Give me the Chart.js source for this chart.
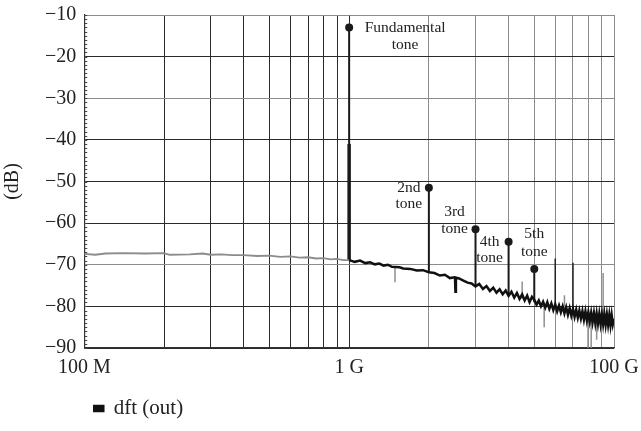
<!DOCTYPE html>
<html>

<head>
  <title>dft (out)</title>
  <script src="https://cdn.jsdelivr.net/npm/chart.js@4.4.1/dist/chart.umd.min.js"></script>
  <style>
    html, body { margin: 0; padding: 0; background: #fff; }
    #wrap { width: 641px; height: 431px; }
  </style>
</head>

<body>
  <div id="wrap"><canvas id="specChart"></canvas></div>
  <script>
    // frequencies in GHz, levels in dB
    const floorLowFreq = [0.10, 0.11, 0.12, 0.14, 0.17, 0.20, 0.21, 0.25, 0.28, 0.30, 0.33, 0.36, 0.40, 0.45, 0.50, 0.55, 0.60, 0.65, 0.70, 0.75, 0.80, 0.85, 0.90, 0.95, 1.00];
    const floorLowDb = [-67.4, -67.6, -67.3, -67.2, -67.3, -67.2, -67.6, -67.5, -67.3, -67.6, -67.5, -67.7, -67.7, -67.9, -67.8, -68.1, -68.0, -68.3, -68.2, -68.5, -68.4, -68.7, -68.6, -68.9, -68.9];

    const floorHighFreq = [1.00, 1.05, 1.10, 1.15, 1.20, 1.25, 1.30, 1.35, 1.40, 1.45, 1.55, 1.60, 1.70, 1.80, 1.90, 2.00, 2.10, 2.20, 2.30, 2.40, 2.50, 2.51, 2.52, 2.53, 2.60, 2.70, 2.80, 2.90, 3.00, 3.10, 3.20, 3.30, 3.40, 3.50, 3.60, 3.70, 3.80, 3.90, 4.00, 4.10, 4.20, 4.30, 4.40, 4.50, 4.60, 4.70, 4.80, 4.90,
      5.00, 5.10, 5.20, 5.30, 5.40, 5.50, 5.60, 5.70, 5.80, 5.90, 6.00, 6.10, 6.20, 6.30, 6.40, 6.50, 6.60, 6.70, 6.80, 6.90, 7.00, 7.10, 7.20, 7.30, 7.40, 7.50, 7.60, 7.70, 7.80, 7.90, 8.00, 8.10, 8.20, 8.30, 8.40, 8.50, 8.60, 8.70, 8.80, 8.90, 9.00, 9.10, 9.20, 9.30, 9.40, 9.50, 9.60, 9.70, 9.80, 9.90, 10.0];
    const floorHighDb = [-68.9, -69.3, -69.0, -69.6, -69.4, -69.9, -69.7, -70.2, -70.0, -70.5, -70.6, -70.9, -71.0, -71.4, -71.3, -71.8, -72.0, -72.6, -72.4, -73.2, -73.0, -73.1, -76.5, -73.1, -73.3, -73.8, -74.3, -74.5, -75.2, -74.6, -75.8, -75.1, -76.3, -75.5, -76.7, -75.9, -77.1, -76.2, -77.5, -76.5, -77.9, -76.8, -78.2, -77.1, -78.6, -77.4, -79.0, -77.7,
      -78.4, -79.6, -78.6, -80.0, -78.9, -80.3, -79.0, -80.6, -79.3, -80.9, -79.5, -81.2, -79.8, -81.4, -80.0, -81.7, -80.2, -82.0, -80.4, -82.2, -80.6, -82.5, -80.8, -82.7, -81.0, -82.9, -81.1, -83.2, -81.2, -83.4, -81.4, -83.6, -81.5, -83.8, -81.6, -84.0, -81.7, -84.1, -81.8, -84.2, -81.9, -84.3, -82.0, -84.4, -82.0, -84.4, -82.1, -84.5, -82.1, -84.3, -83.0];

    const toneFreq = [1, 2, 3, 4, 5];
    const toneTopDb = [-13, -51.5, -61.5, -64.5, -71];
    const toneBaseDb = [-69, -71.8, -75.2, -77.5, -79];
    const toneNames = [['Fundamental', 'tone'], ['2nd', 'tone'], ['3rd', 'tone'], ['4th', 'tone'], ['5th', 'tone']];
    const fundThickFromDb = -41;

    const spurFreq = [6, 7];
    const spurTopDb = [-68.5, -69.5];
    const spurBaseDb = [-80.4, -81.2];

    const graySpurFreq = [1.49, 4.5, 5.45, 6.5, 7.98, 8.2, 8.6, 9.1];
    const graySpurFromDb = [-70.4, -78.2, -79.6, -80.4, -81.6, -81.8, -82.8, -82.2];
    const graySpurToDb = [-74.2, -74.0, -85.0, -77.3, -90, -90, -88, -72.0];

    const xLabelTicks = [0.1, 1, 10];
    const xLabels = ['100 M', '1 G', '100 G'];
    const xGridTicks = [0.1, 0.2, 0.3, 0.4, 0.5, 0.6, 0.7, 0.8, 0.9, 1, 2, 3, 4, 5, 6, 7, 8, 9, 10];
    const yMin = -90, yMax = -10;
    const yGray = [-10, -30, -70];

    const GHz = 1e9;
    const serif = '"Liberation Serif", "DejaVu Serif", serif';

    function pairs(freqs, dbs) {
      return freqs.map((f, i) => ({ x: f * GHz, y: dbs[i] }));
    }

    function stems(freqs, fromDb, toDb) {
      const pts = [];
      freqs.forEach((f, i) => {
        pts.push({ x: f * GHz, y: fromDb[i] });
        pts.push({ x: f * GHz, y: toDb[i] });
        pts.push({ x: f * GHz, y: null });
      });
      return pts;
    }

    // thin upper part of the fundamental, full stems for the others
    const thinStemBottom = toneBaseDb.slice();
    thinStemBottom[0] = fundThickFromDb;
    const tonePoints = stems(toneFreq, toneTopDb, thinStemBottom);

    const minorTicks = {
      id: 'minorTicks',
      afterDraw(chart) {
        const y = chart.scales.y, ca = chart.chartArea, c = chart.ctx;
        c.save();
        c.strokeStyle = '#444';
        c.lineWidth = 1;
        for (let v = yMin; v <= yMax; v++) {
          const py = Math.round(y.getPixelForValue(v)) + 0.5;
          c.beginPath();
          c.moveTo(ca.left, py);
          c.lineTo(ca.left + 3, py);
          c.stroke();
        }
        c.restore();
      }
    };

    const toneLabels = {
      id: 'toneLabels',
      afterDatasetsDraw(chart) {
        const xs = chart.scales.x, ys = chart.scales.y, c = chart.ctx;
        // [dx, dy first line, dy second line] relative to the dot
        const offs = [[56, 0, 17], [-20, 0, 16], [-21, -17, 0], [-19, 0, 16], [0, -35, -17]];
        c.save();
        c.fillStyle = '#222';
        c.font = '15.5px ' + serif;
        c.textAlign = 'center';
        c.textBaseline = 'middle';
        toneFreq.forEach((f, i) => {
          const px = xs.getPixelForValue(f * GHz);
          const py = ys.getPixelForValue(toneTopDb[i]);
          const o = offs[i];
          c.fillText(toneNames[i][0], px + o[0], py + o[1]);
          c.fillText(toneNames[i][1], px + o[0], py + o[2]);
        });
        c.restore();
      }
    };

    const ctx = document.getElementById('specChart').getContext('2d');
    new Chart(ctx, {
      type: 'line',
      data: {
        datasets: [
          {
            label: 'dft (out)',
            data: pairs(floorHighFreq, floorHighDb),
            borderColor: '#111',
            backgroundColor: '#111',
            borderWidth: 2.5,
            pointRadius: 0,
            tension: 0
          },
          {
            label: 'floor low',
            data: pairs(floorLowFreq, floorLowDb),
            borderColor: '#8c8c8c',
            borderWidth: 1.8,
            pointRadius: 0
          },
          {
            label: 'gray spurs',
            data: stems(graySpurFreq, graySpurFromDb, graySpurToDb),
            borderColor: '#8f8f8f',
            borderWidth: 1.5,
            pointRadius: 0
          },
          {
            label: 'spurs',
            data: stems(spurFreq, spurTopDb, spurBaseDb),
            borderColor: '#222',
            borderWidth: 1.5,
            pointRadius: 0
          },
          {
            label: 'fund thick',
            data: stems([toneFreq[0]], [fundThickFromDb], [toneBaseDb[0]]),
            borderColor: '#1a1a1a',
            borderWidth: 3.5,
            pointRadius: 0
          },
          {
            label: 'tones',
            data: tonePoints,
            borderColor: '#1a1a1a',
            backgroundColor: '#1a1a1a',
            borderWidth: 2,
            pointRadius: (c) => (c.dataIndex % 3 === 0 ? 4 : 0),
            pointBorderWidth: 0
          }
        ]
      },
      options: {
        animation: false,
        responsive: true,
        maintainAspectRatio: false,
        layout: { padding: { top: 3, left: 1, right: 0, bottom: 2 } },
        scales: {
          x: {
            type: 'logarithmic',
            min: 0.1 * GHz,
            max: 10 * GHz,
            afterBuildTicks(scale) {
              scale.ticks = xGridTicks.map(v => ({ value: v * GHz }));
            },
            afterFit(scale) {
              scale.paddingRight = 27;
            },
            grid: {
              color: (c) => (c.tick && c.tick.value > GHz * 1.01 ? '#8c8c8c' : '#2a2a2a'),
              lineWidth: 1,
              drawTicks: false
            },
            border: { color: '#333', width: 1.2 },
            ticks: {
              autoSkip: false,
              maxRotation: 0,
              padding: 8,
              color: '#222',
              font: { family: serif, size: 20 },
              callback(value) {
                const k = xLabelTicks.findIndex(t => Math.abs(t * GHz - value) < 1);
                return k >= 0 ? xLabels[k] : '';
              }
            }
          },
          y: {
            min: yMin,
            max: yMax,
            afterFit(scale) {
              scale.paddingTop = 15;
            },
            ticks: {
              stepSize: 10,
              padding: 8,
              color: '#222',
              font: { family: serif, size: 20 },
              callback: (v) => String(v).replace('-', '\u2212')
            },
            grid: {
              color: (c) => (c.tick && yGray.includes(c.tick.value) ? '#8c8c8c' : '#2a2a2a'),
              lineWidth: 1,
              drawTicks: false
            },
            border: { color: '#333', width: 1.2 },
            title: {
              display: true,
              text: '(dB)',
              color: '#222',
              font: { family: serif, size: 20 },
              padding: { top: 0, bottom: 12 }
            }
          }
        },
        plugins: {
          legend: {
            position: 'bottom',
            align: 'start',
            fullSize: false,
            labels: {
              filter: (item) => item.text === 'dft (out)',
              boxWidth: 9,
              boxHeight: 5,
              color: '#222',
              padding: 10,
              font: { family: serif, size: 21 }
            }
          },
          tooltip: { enabled: false }
        }
      },
      plugins: [minorTicks, toneLabels]
    });
  </script>
</body>

</html>
